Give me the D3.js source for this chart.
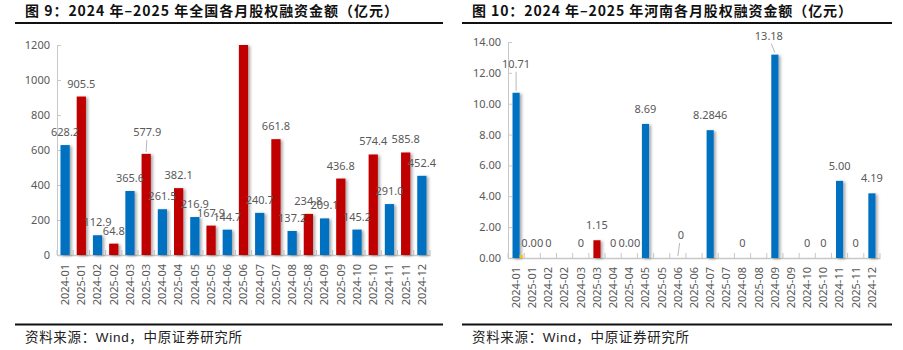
<!DOCTYPE html>
<html>
<head>
<meta charset="utf-8">
<script src="https://cdn.jsdelivr.net/npm/d3@7"></script>
<style>
  body { margin: 0; background: #fff; }
  svg { display: block; }
</style>
</head>
<body>
<svg id="chart" width="903" height="350"></svg>
<script>
// Monthly equity financing, 2024 vs 2025 (100m yuan)
const months = ['2024-01', '2025-01', '2024-02', '2025-02', '2024-03', '2025-03', '2024-04', '2025-04',
    '2024-05', '2025-05', '2024-06', '2025-06', '2024-07', '2025-07', '2024-08', '2025-08',
    '2024-09', '2025-09', '2024-10', '2025-10', '2024-11', '2025-11', '2024-12'];

// national totals (2025-06 runs off the top of the axis, label not shown)
const nationalValues = [628.2, 905.5, 112.9, 64.8, 365.6, 577.9, 261.5, 382.1, 216.9, 167.9, 144.7, 1200,
    240.7, 661.8, 137.2, 234.8, 209.1, 436.8, 145.2, 574.4, 291.0, 585.8, 452.4];
const nationalLabels = ['628.2', '905.5', '112.9', '64.8', '365.6', '577.9', '261.5', '382.1', '216.9', '167.9', '144.7', '',
    '240.7', '661.8', '137.2', '234.8', '209.1', '436.8', '145.2', '574.4', '291.0', '585.8', '452.4'];
const nationalTicks = [0, 200, 400, 600, 800, 1000, 1200];

// Henan province
const henanValues = [10.71, 0, 0, 0, 0, 1.15, 0, 0, 8.69, 0, 0, 0, 8.2846, 0, 0, 0, 13.18, 0, 0, 0, 5.00, 0, 4.19];
const henanLabels = ['10.71', '0.00', '0', '', '0', '1.15', '0', '0.00', '8.69', '', '0', '',
    '8.2846', '', '0', '', '13.18', '', '0', '0', '5.00', '0', '4.19'];
const henanTicks = [0, 2, 4, 6, 8, 10, 12, 14];
// small gold sliver next to the first Henan bar
const henanExtra = [0.2];

const BLUE = '#0070C0';
const RED = '#C00000';
const TEXT = '#595959';
const AXIS = '#c8c8c8';
const NUMFONT = '"Noto Sans", "Noto Sans CJK SC", sans-serif';

const svg = d3.select('#chart');

const defs = svg.append('defs');
const shadow = defs.append('filter').attr('id', 'barShadow')
    .attr('x', '-50%').attr('y', '-10%').attr('width', '220%').attr('height', '130%');
shadow.append('feDropShadow')
    .attr('dx', 2).attr('dy', 1).attr('stdDeviation', 1.4)
    .attr('flood-color', '#000').attr('flood-opacity', 0.35);

function barColor(m) {
    return m.startsWith('2025') ? RED : BLUE;
}

function drawPanel(opt) {
    const g = svg.append('g');

    // title + rules
    g.append('text')
        .attr('x', opt.titleX).attr('y', 15.5)
        .attr('font-family', '"Noto Sans CJK SC", sans-serif')
        .attr('font-weight', 'bold')
        .attr('font-size', '14px')
        .attr('fill', '#111')
        .attr('textLength', opt.titleWidth)
        .attr('lengthAdjust', 'spacing')
        .text(opt.title);

    [23, 324.5].forEach(y => {
        g.append('line')
            .attr('x1', opt.ruleX[0]).attr('x2', opt.ruleX[1])
            .attr('y1', y).attr('y2', y)
            .attr('stroke', '#111').attr('stroke-width', 2);
    });

    g.append('text')
        .attr('x', opt.titleX).attr('y', 342)
        .attr('font-family', '"Liberation Sans", "Noto Sans CJK SC", sans-serif')
        .attr('font-size', '13.5px')
        .attr('fill', '#222')
        .attr('textLength', 217)
        .attr('lengthAdjust', 'spacing')
        .text('资料来源：Wind，中原证券研究所');

    const x = d3.scaleBand()
        .domain(months)
        .range(opt.xRange)
        .paddingInner(opt.padding)
        .paddingOuter(opt.padding / 2);

    const y = d3.scaleLinear()
        .domain([0, opt.yMax])
        .range(opt.yRange)
        .clamp(true);

    // y axis
    const yAxis = g.append('g')
        .attr('transform', `translate(${opt.xRange[0]},0)`)
        .call(d3.axisLeft(y).tickValues(opt.ticks).tickFormat(opt.tickFormat)
            .tickSizeInner(-4).tickSizeOuter(0).tickPadding(7));
    yAxis.select('.domain').attr('stroke', AXIS);
    yAxis.selectAll('.tick line').attr('stroke', AXIS);
    yAxis.selectAll('.tick text')
        .attr('fill', TEXT)
        .attr('font-family', NUMFONT)
        .attr('font-size', '11px');

    // x axis
    const xAxis = g.append('g')
        .attr('transform', `translate(0,${opt.yRange[0]})`)
        .call(d3.axisBottom(x).tickSize(0).tickPadding(0));
    xAxis.select('.domain').attr('stroke', AXIS).attr('stroke-width', 1.5);
    xAxis.selectAll('.tick text')
        .attr('transform', 'rotate(-90)')
        .attr('x', -9).attr('y', 0)
        .attr('dy', '0.35em')
        .attr('text-anchor', 'end')
        .attr('fill', TEXT)
        .attr('font-family', NUMFONT)
        .attr('font-size', '11px');

    // category boundary ticks
    const step = x.step();
    g.append('g').selectAll('line')
        .data(d3.range(months.length + 1))
        .join('line')
        .attr('x1', i => opt.xRange[0] + i * step)
        .attr('x2', i => opt.xRange[0] + i * step)
        .attr('y1', opt.yRange[0])
        .attr('y2', opt.yRange[0] - 5)
        .attr('stroke', AXIS);

    // bars
    const data = months.map((m, i) => ({ m, v: opt.values[i], label: opt.labels[i], i }));
    g.append('g').selectAll('rect')
        .data(data.filter(d => d.v > 0))
        .join('rect')
        .attr('x', d => x(d.m))
        .attr('y', d => y(d.v))
        .attr('width', x.bandwidth())
        .attr('height', d => y(0) - y(d.v))
        .attr('fill', d => barColor(d.m))
        .attr('filter', 'url(#barShadow)');

    if (opt.extra) {
        g.append('g').selectAll('rect')
            .data(opt.extra)
            .join('rect')
            .attr('x', (v, i) => x(months[i]) + x.bandwidth())
            .attr('y', v => y(v))
            .attr('width', 3)
            .attr('height', v => y(0) - y(v))
            .attr('fill', '#FFC000');
    }

    // value labels
    const lab = g.append('g')
        .attr('font-family', NUMFONT)
        .attr('font-size', '11px')
        .attr('fill', TEXT)
        .attr('text-anchor', 'middle');

    data.filter(d => d.label).forEach(d => {
        const nudge = opt.nudge[d.i] || { dx: 0, dy: 0 };
        const cx = x(d.m) + x.bandwidth() / 2;
        const top = y(d.v);
        const ly = top - opt.labelGap + nudge.dy;
        lab.append('text')
            .attr('x', cx + nudge.dx)
            .attr('y', ly)
            .text(d.label);
        if (nudge.leader) {
            g.append('line')
                .attr('x1', cx + nudge.dx * 0.6).attr('y1', ly + 4)
                .attr('x2', cx).attr('y2', top - 2)
                .attr('stroke', '#a6a6a6').attr('stroke-width', 0.8);
        }
    });
}

drawPanel({
    title: '图 9：2024 年–2025 年全国各月股权融资金额（亿元）',
    titleX: 25,
    titleWidth: 373,
    ruleX: [15, 443],
    xRange: [57, 430],
    yRange: [255, 45],
    yMax: 1200,
    ticks: nationalTicks,
    tickFormat: d3.format('d'),
    values: nationalValues,
    labels: nationalLabels,
    padding: 0.43,
    labelGap: 9,
    nudge: { 5: { dx: 1, dy: -9, leader: true } }
});

drawPanel({
    title: '图 10：2024 年–2025 年河南各月股权融资金额（亿元）',
    titleX: 472,
    titleWidth: 380,
    ruleX: [462, 892],
    xRange: [508, 880],
    yRange: [258, 42],
    yMax: 14,
    ticks: henanTicks,
    tickFormat: d3.format('.2f'),
    values: henanValues,
    labels: henanLabels,
    extra: henanExtra,
    padding: 0.56,
    labelGap: 11,
    nudge: {
        0: { dx: 0, dy: -14, leader: true },
        10: { dx: 3, dy: -8, leader: true },
        16: { dx: -6, dy: -4, leader: true }
    }
});
</script>
</body>
</html>
